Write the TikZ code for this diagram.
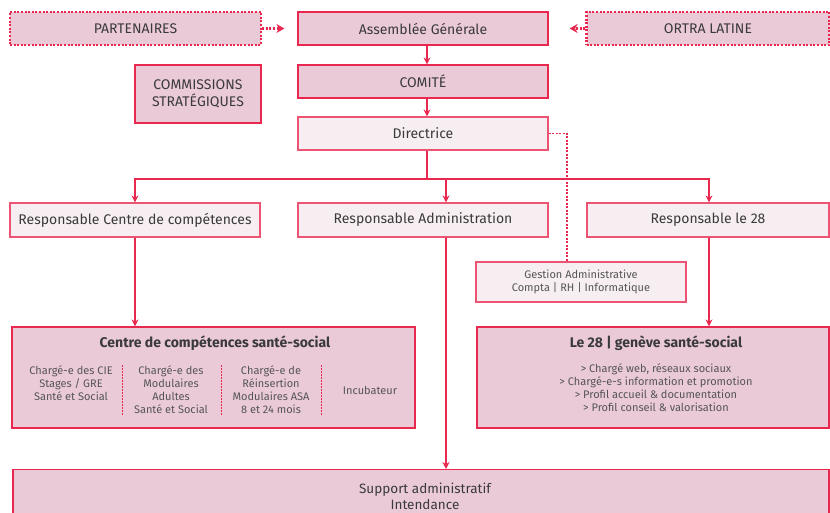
\documentclass[tikz,border=0pt]{standalone}
\usepackage{fontspec}
\setmainfont{Fira Sans}
\usetikzlibrary{arrows.meta}
\definecolor{rd}{HTML}{E8284F}
\definecolor{pk}{HTML}{EBCAD8}
\definecolor{lp}{HTML}{F7EEF2}
\definecolor{tx}{HTML}{3A3A3A}
\definecolor{tl}{HTML}{555555}
\tikzset{
  box/.style={draw=rd, line width=1.2pt, fill=pk, text=tx, inner sep=0pt, align=center, font=\fontsize{14}{16.5}\selectfont},
  lbox/.style={box, fill=lp, draw=rd!80},
  dbox/.style={box, line width=2.4pt, dash pattern=on 2pt off 1.6pt},
  conn/.style={draw=rd, line width=1.2pt},
  arr/.style={conn, -{Stealth[length=7pt,width=7pt]}},
  darr/.style={draw=rd, line width=2.2pt, dash pattern=on 2pt off 1.6pt, -{Stealth[length=8pt,width=9pt]}},
  dline/.style={draw=rd, line width=1.1pt, dash pattern=on 2pt off 1.5pt},
  sep/.style={draw=rd, line width=0.9pt, dash pattern=on 1.5pt off 1.5pt},
  small/.style={text=tl, align=center, font=\fontsize{11}{13}\selectfont},
  ttl/.style={text=tx, font=\fontsize{14}{16}\selectfont\bfseries},
}
\begin{document}
\begin{tikzpicture}[x=1pt,y=-1pt]
\clip (0,0) rectangle (830,513);
\fill[white] (0,0) rectangle (830,513);
% top row
\node[dbox, minimum width=251pt, minimum height=33pt] (part) at (135.5,28.5) {PARTENAIRES};
\node[box, minimum width=250pt, minimum height=33pt] (ag) at (423,28.5) {Assemblée Générale};
\node[dbox, minimum width=243pt, minimum height=33pt] (ortra) at (708,28.5) {ORTRA LATINE};
\node[box, minimum width=250pt, minimum height=33pt] (comite) at (423,81.5) {COMITÉ};
\node[box, minimum width=126pt, minimum height=58pt] (comm) at (198,94) {COMMISSIONS\\STRATÉGIQUES};
\node[lbox, minimum width=250pt, minimum height=33pt] (dir) at (423,133.5) {Directrice};
% responsables
\node[lbox, minimum width=250pt, minimum height=34pt] (rcc) at (135,220) {Responsable Centre de compétences};
\node[lbox, minimum width=250pt, minimum height=34pt] (radm) at (423,220) {Responsable Administration};
\node[lbox, minimum width=242pt, minimum height=34pt] (r28) at (708,220) {Responsable le 28};
\node[lbox, minimum width=210pt, minimum height=40pt, font=\fontsize{11}{13}\selectfont, text=tl] (gest) at (581,282) {Gestion Administrative\\Compta | RH | Informatique};
% lower boxes
\node[box, minimum width=403pt, minimum height=101pt] (centre) at (213.5,377.5) {};
\node[ttl] (ctitle) at (215,343) {Centre de compétences santé-social};
\node[small] (c1) at (71,383) {Chargé-e des CIE\\Stages / GRE\\Santé et Social};
\node[small] (c2) at (171,389.5) {Chargé-e des\\Modulaires\\Adultes\\Santé et Social};
\node[small] (c3) at (271,389.5) {Chargé-e de\\Réinsertion\\Modulaires ASA\\8 et 24 mois};
\node[small] (c4) at (370,390) {Incubateur};
\coordinate (s1t) at (122,365); \coordinate (s1b) at (122,415);
\coordinate (s2t) at (221,365); \coordinate (s2b) at (221,415);
\coordinate (s3t) at (321,365); \coordinate (s3b) at (321,415);
\draw[sep] (s1t) -- (s1b);
\draw[sep] (s2t) -- (s2b);
\draw[sep] (s3t) -- (s3b);
\node[box, minimum width=352pt, minimum height=101pt] (le28) at (653,377.5) {};
\node[ttl] (ltitle) at (656,343) {Le 28 | genève santé-social};
\node[small] (lt) at (656,388) {> Chargé web, réseaux sociaux\\> Chargé-e-s information et promotion\\> Profil accueil \& documentation\\> Profil conseil \& valorisation};
\node[box, minimum width=816pt, minimum height=70pt, anchor=north] (support) at (421,469) {};
\node[text=tx, align=center, font=\fontsize{13.5}{16}\selectfont] (st) at (425,496) {Support administratif\\Intendance};
% connectors
\draw[darr, shorten >=13pt] (part.east) -- (ag.west);
\draw[darr, shorten >=21pt] (ortra.west) -- (ag.east);
\draw[arr] ([xshift=4pt]ag.south) -- ([xshift=4pt]comite.north);
\draw[arr] ([xshift=4pt]comite.south) -- ([xshift=4pt]dir.north);
\coordinate (bus) at (427,179);
\draw[conn] ([xshift=4pt]dir.south) -- (bus);
\draw[arr] (bus) -| (rcc.north);
\draw[arr] (bus) -| ([xshift=23pt]radm.north);
\draw[arr] (bus) -| ([xshift=1pt]r28.north);
\coordinate (dk) at (567,133.5);
\draw[dline] (dir.east) -- (dk) -- (dk |- gest.north);
\draw[arr] (rcc.south) -- (rcc.south |- centre.north);
\draw[arr] ([xshift=1pt]r28.south) -- ([xshift=1pt]r28.south |- le28.north);
\draw[arr] ([xshift=23pt]radm.south) -- ([xshift=23pt]radm.south |- support.north);
\end{tikzpicture}
\end{document}
